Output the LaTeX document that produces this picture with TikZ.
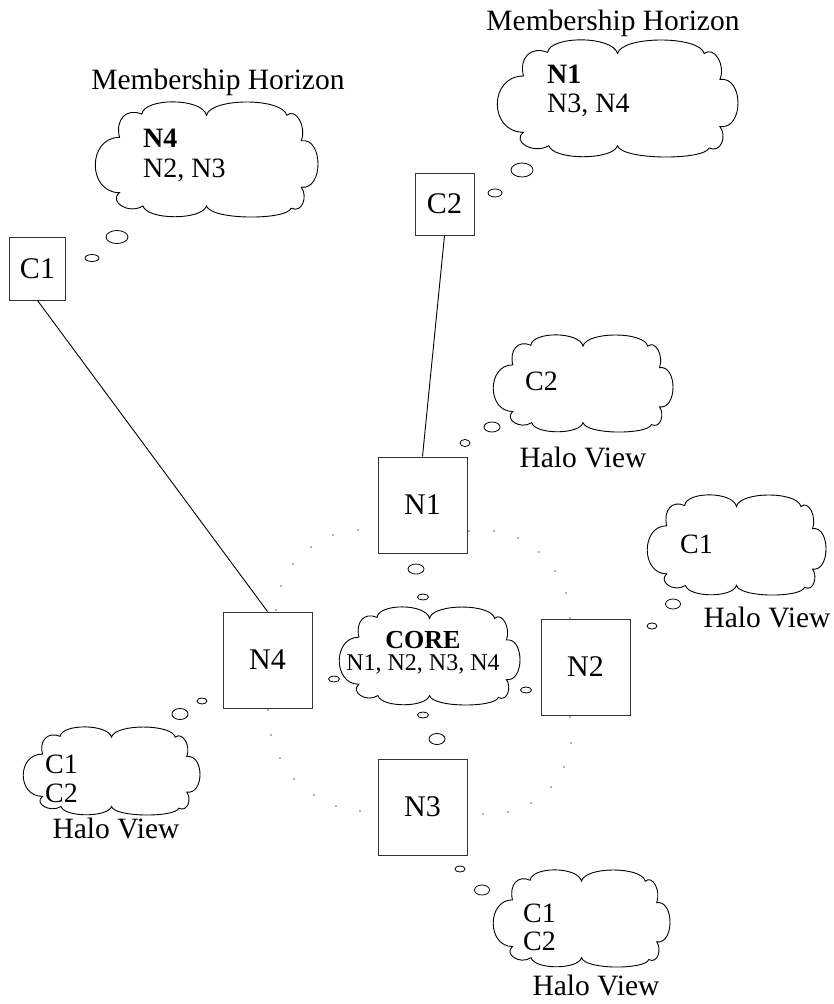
\documentclass[tikz,border=0pt]{standalone}
\usepackage{fontspec}
\setmainfont{Liberation Serif}
\usetikzlibrary{shapes.geometric}
\newcommand\xcloud[3]{%
\draw[cloudline, shift={(#1)}, x=#2pt, y=#3pt]
 (-0.78,0.20) .. controls (-0.82,0.36) and (-0.72,0.47) .. (-0.58,0.41)
 .. controls (-0.56,0.56) and (-0.04,0.56) .. (0,0.40)
 .. controls (0.04,0.56) and (0.68,0.56) .. (0.72,0.40)
 .. controls (0.80,0.47) and (0.90,0.30) .. (0.85,0.17)
 .. controls (1.05,0.20) and (1.05,-0.28) .. (0.85,-0.25)
 .. controls (0.91,-0.33) and (0.86,-0.49) .. (0.76,-0.44)
 .. controls (0.72,-0.55) and (0.04,-0.55) .. (0,-0.42)
 .. controls (-0.04,-0.55) and (-0.53,-0.55) .. (-0.57,-0.42)
 .. controls (-0.70,-0.50) and (-0.88,-0.38) .. (-0.78,-0.30)
 .. controls (-1.07,-0.30) and (-1.07,0.20) .. (-0.78,0.20) -- cycle;}
\begin{document}
\begin{tikzpicture}[x=1pt,y=-1pt,
  box/.style={draw=black!80, line width=1pt, fill=white, minimum width=89pt, minimum height=96pt, inner sep=0pt, font=\fontsize{30}{36}\selectfont},
  cbox/.style={box, minimum width=56pt, minimum height=63pt},
  cloudline/.style={draw=black, line width=0.9pt, fill=white},
  bubble/.style 2 args={ellipse, draw=black, line width=0.8pt, fill=white, inner sep=0pt, minimum width=#1pt, minimum height=#2pt},
  lbl/.style={font=\fontsize{29.5}{34}\selectfont, inner sep=0pt, anchor=base},
  ctxt/.style={font=\fontsize{28}{33}\selectfont, inner sep=0pt, anchor=base west},
  coretxt/.style={font=\fontsize{24}{28}\selectfont, inner sep=0pt, anchor=base},
  link/.style={draw=black, line width=0.9pt},
  ringdot/.style={fill=black!60}]
\useasboundingbox (0,0) rectangle (833,1004);
% dotted ring
\foreach \p in {(358,530),(333,535),(311,547),(293,564),(281,586),(276,610),
  (268,710),(271,735),(280,758),(294,779),(314,795),(336,806),(360,811),
  (469,531),(494,531),(518,538),(539,552),(555,571),(566,593),(570,618),
  (570,717),(571,743),(564,767),(551,787),(531,803),(508,812),(483,814)}
  \fill[ringdot] \p circle[radius=0.9pt];
% cloud centres
\coordinate (hzL) at (206.5,159.5);
\coordinate (hzR) at (617.5,98.5);
\coordinate (hal1) at (583,383.5);
\coordinate (hal2) at (736.5,545);
\coordinate (hal4) at (111.5,771);
\coordinate (hal3) at (581.5,918.5);
\coordinate (core) at (429.5,656);
\xcloud{hzL}{111.5}{110.6}
\xcloud{hzR}{120.5}{112.5}
\xcloud{hal1}{90}{93.3}
\xcloud{hal2}{89.5}{96.2}
\xcloud{hal4}{88.5}{84.6}
\xcloud{hal3}{88.5}{93.3}
\xcloud{core}{90.5}{94.2}
% boxes
\node[cbox] (c1) at (37.5,268.5) {C1};
\node[cbox, minimum width=59pt, minimum height=62pt] (c2) at (444.5,204) {C2};
\node[box] (n1) at (422.5,505) {N1};
\node[box] (n4) at (267.5,660) {N4};
\node[box] (n2) at (585.5,667) {N2};
\node[box] (n3) at (422.5,807) {N3};
% links
\draw[link] (c1.south) -- (n4.north);
\draw[link] (c2.south) -- (n1.north);
% thought bubbles
\node[bubble={22}{13}] (bl1) at (117,237) {};
\node[bubble={14}{7}] (bl2) at (92,258) {};
\node[bubble={22}{14}] (br1) at (522,170) {};
\node[bubble={14}{8}] (br2) at (495,193) {};
\node[bubble={16}{10}] (b11) at (492,427) {};
\node[bubble={10}{7}] (b12) at (465,443) {};
\node[bubble={15}{10}] (b21) at (673,604) {};
\node[bubble={10}{6}] (b22) at (652,626) {};
\node[bubble={16}{11}] (b41) at (180,714) {};
\node[bubble={10}{6}] (b42) at (202,701) {};
\node[bubble={10}{6}] (b32) at (460,869) {};
\node[bubble={15}{10}] (b31) at (482,890) {};
\node[bubble={16}{10}] (cb1) at (416,569) {};
\node[bubble={11}{6}] (cb2) at (423,597) {};
\node[bubble={11}{6}] (cb3) at (334,679) {};
\node[bubble={11}{6}] (cb4) at (526,690) {};
\node[bubble={11}{6}] (cb5) at (423,715) {};
\node[bubble={16}{11}] (cb6) at (437,739) {};
% texts
\node[lbl] (mhL) at (218,89) {Membership Horizon};
\node[lbl] (mhR) at (613,30) {Membership Horizon};
\node[ctxt] (tL1) at (143,147) {\bfseries N4};
\node[ctxt] (tL2) at (143,177) {N2, N3};
\node[ctxt] (tR1) at (547,83) {\bfseries N1};
\node[ctxt] (tR2) at (547,112) {N3, N4};
\node[ctxt] (t11) at (525,390) {C2};
\node[lbl] (hv1) at (583,467) {Halo View};
\node[ctxt] (t21) at (680,553) {C1};
\node[lbl] (hv2) at (767,627) {Halo View};
\node[ctxt] (t41) at (45,773) {C1};
\node[ctxt] (t42) at (45,802) {C2};
\node[lbl] (hv4) at (116,838) {Halo View};
\node[ctxt] (t31) at (523,922) {C1};
\node[ctxt] (t32) at (523,950) {C2};
\node[lbl] (hv3) at (596,995) {Halo View};
\node[coretxt, font=\fontsize{26}{30}\selectfont] (ct1) at (423,648) {\bfseries CORE};
\node[coretxt] (ct2) at (423,670) {N1, N2, N3, N4};
\end{tikzpicture}
\end{document}
